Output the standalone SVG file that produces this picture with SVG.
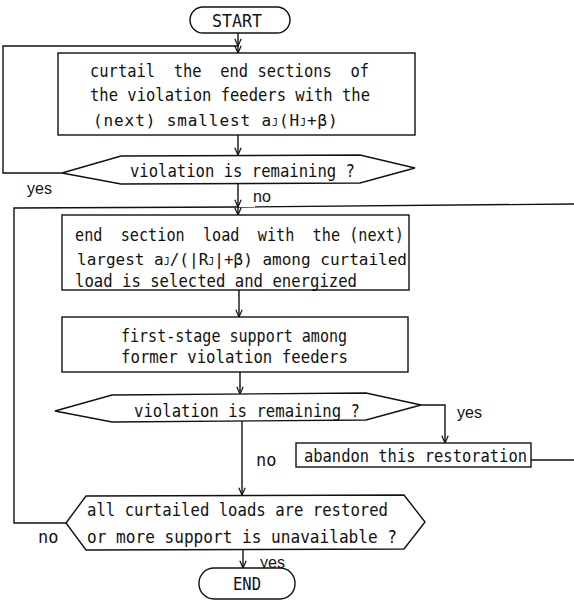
<svg xmlns="http://www.w3.org/2000/svg" width="574" height="601" viewBox="0 0 574 601">
<style>
.ln{fill:none;stroke:#111;stroke-width:1.4}
.nd{fill:#fff;stroke:#111;stroke-width:1.4}
.t{font-family:"DejaVu Sans Mono","Liberation Mono",monospace;font-size:17px;fill:#111;white-space:pre}
.f{font-size:16px}
.s{font-size:10px}
.lb{font-family:"Liberation Sans",Arial,sans-serif;font-size:16px;fill:#111}
</style>
<defs>
<marker id="ah" viewBox="0 0 10 10" refX="10" refY="5" markerWidth="8" markerHeight="8" markerUnits="userSpaceOnUse" orient="auto">
<path d="M1,1 L10,5 L1,9" fill="none" stroke="#111" stroke-width="1.5"/>
</marker>
</defs>
<g id="connectors">
<path class="ln" d="M238,33 L238,46 L238,53" marker-mid="url(#ah)" marker-end="url(#ah)"/>
<path class="ln" d="M62,173 L3,173 L3,46 L238,46"/>
<path class="ln" d="M238,135 L238,155" marker-end="url(#ah)"/>
<path class="ln" d="M238,183 L238,207 L238,215" marker-mid="url(#ah)" marker-end="url(#ah)"/>
<path class="ln" d="M574,204 L238,207"/>
<path class="ln" d="M66,523 L14,523 L14,208 L238,207"/>
<path class="ln" d="M239,290 L239,317" marker-end="url(#ah)"/>
<path class="ln" d="M240,372 L240,394" marker-end="url(#ah)"/>
<path class="ln" d="M421,405 L445,405 L445,443" marker-end="url(#ah)"/>
<path class="ln" d="M242,421 L242,495" marker-end="url(#ah)"/>
<path class="ln" d="M531,460 L574,460"/>
<path class="ln" d="M243,550 L243,568" marker-end="url(#ah)"/>
<text class="lb" x="27" y="194" font-size="17">yes</text>
<text class="lb" x="253" y="202">no</text>
<text class="lb" x="457" y="418" font-size="17">yes</text>
<text class="t" x="256" y="466" font-size="16">no</text>
<text class="t" x="38" y="543" font-size="16">no</text>
<text class="lb" x="260" y="568" font-size="17">yes</text>
</g>
<g id="start">
<rect class="nd" x="190" y="7" width="100" height="26" rx="13"/>
<text class="t" x="237" y="27" font-size="19" text-anchor="middle" textLength="50" lengthAdjust="spacingAndGlyphs">START</text>
</g>
<g id="curtail">
<rect class="nd" x="58" y="53" width="357" height="82"/>
<text class="t" x="90" y="77" textLength="279" lengthAdjust="spacingAndGlyphs">curtail  the  end sections  of</text>
<text class="t" x="90" y="101" textLength="280" lengthAdjust="spacingAndGlyphs">the violation feeders with the</text>
<text class="t f" x="93" y="126" letter-spacing="0.9">(next) smallest a<tspan class="s">J</tspan>(H<tspan class="s">J</tspan>+β)</text>
</g>
<g id="check1">
<polygon class="nd" points="62,173 121,156 360,155 415,168 360,183 121,184"/>
<text class="t" x="130" y="177" textLength="225" lengthAdjust="spacingAndGlyphs">violation is remaining ?</text>
</g>
<g id="energize">
<rect class="nd" x="62" y="215" width="347" height="75"/>
<text class="t" x="75" y="241" textLength="329" lengthAdjust="spacingAndGlyphs">end  section  load  with  the (next)</text>
<text class="t f" x="77" y="265">largest a<tspan class="s">J</tspan>/(|R<tspan class="s">J</tspan>|+β) among curtailed</text>
<text class="t" x="75" y="287" textLength="282" lengthAdjust="spacingAndGlyphs">load is selected and energized</text>
</g>
<g id="support">
<rect class="nd" x="62" y="317" width="346" height="55"/>
<text class="t" x="121" y="342" textLength="226" lengthAdjust="spacingAndGlyphs">first-stage support among</text>
<text class="t" x="121" y="363" textLength="227" lengthAdjust="spacingAndGlyphs">former violation feeders</text>
</g>
<g id="check2">
<polygon class="nd" points="55,411 112,395 366,393 421,405 366,420 112,422"/>
<text class="t" x="134" y="417" textLength="226" lengthAdjust="spacingAndGlyphs">violation is remaining ?</text>
</g>
<g id="abandon">
<rect class="nd" x="296" y="443" width="235" height="24"/>
<text class="t" x="304" y="462" textLength="223" lengthAdjust="spacingAndGlyphs">abandon this restoration</text>
</g>
<g id="check3">
<polygon class="nd" points="66,523 86,496 404,495 425,522 404,549 86,550"/>
<text class="t" x="87" y="516" textLength="301" lengthAdjust="spacingAndGlyphs">all curtailed loads are restored</text>
<text class="t" x="87" y="543" textLength="310" lengthAdjust="spacingAndGlyphs">or more support is unavailable ?</text>
</g>
<g id="end">
<rect class="nd" x="199" y="568" width="96" height="31" rx="15"/>
<text class="t" x="247" y="590" font-size="19" text-anchor="middle" textLength="28" lengthAdjust="spacingAndGlyphs">END</text>
</g>
</svg>
